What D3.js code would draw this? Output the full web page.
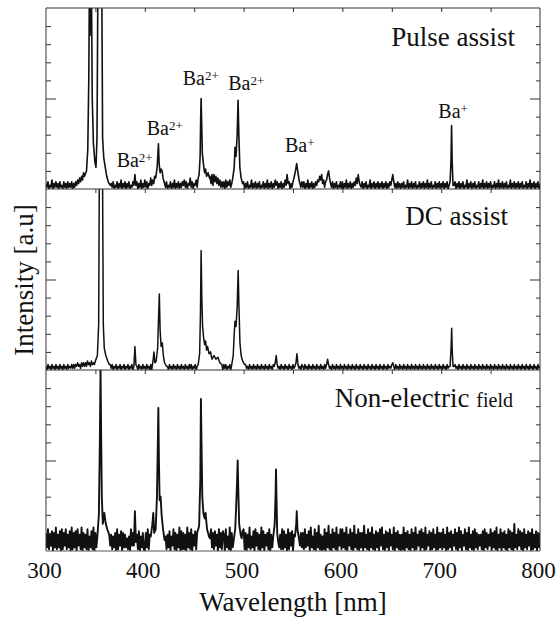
<!DOCTYPE html>
<html>
<head>
<meta charset="utf-8">
<script src="https://cdn.jsdelivr.net/npm/d3@7"></script>
<style>
  body { margin: 0; background: #fff; }
  text { font-family: "Liberation Serif", "Times New Roman", serif; fill: #111; }
</style>
</head>
<body>
<svg id="chart" width="556" height="623"></svg>
<script>
// Spectra: baseline readings every 1 nm from 300 nm (one row = 20 nm),
// plus hand-read points around each emission line (those replace the row values)
const wlStart = 300, wlStep = 1;

const pulseGrid = [
  3,1,4,0,2,1,5,0,3,1,4,1,3,0,4,1,2,0,4,1,   // 300
  3,0,4,1,3,1,4,0,3,1,4,2,5,3,6,4,7,5,9,6,   // 320
  0,0,0,0,0,0,0,0,0,0,0,0,0,0,0,0,0,0,0,0,   // 340
  0,0,0,0,0,0,3,1,4,0,2,1,4,0,3,1,5,0,3,1,   // 360
  4,0,3,1,4,0,2,1,4,2,8,2,4,0,3,1,5,0,3,1,   // 380
  5,1,4,0,3,2,6,2,5,3,7,0,0,0,0,0,0,0,0,0,   // 400
  3,1,4,0,2,1,4,0,3,1,5,0,3,1,4,0,3,1,4,2,   // 420
  5,1,4,0,3,2,6,1,4,0,3,2,5,1,6,0,0,0,0,0,   // 440
  0,0,0,0,0,0,7,3,8,2,8,4,7,3,6,2,5,1,4,1,   // 460
  4,0,5,1,4,2,5,1,3,0,0,0,0,0,0,0,0,0,0,0,   // 480
  4,0,3,1,4,0,2,1,5,0,3,1,4,0,3,1,4,0,2,1,   // 500
  4,0,3,1,5,0,3,1,4,0,3,1,5,2,4,0,3,1,4,0,   // 520
  3,1,5,2,8,3,4,0,3,1,4,0,0,0,0,0,0,3,1,4,   // 540
  1,4,0,3,1,5,0,3,1,4,0,3,1,4,2,5,4,7,5,8,   // 560
  3,5,1,4,5,8,10,6,3,1,4,0,3,1,4,0,2,1,4,0,  // 580
  4,0,3,1,5,0,3,1,4,0,3,1,4,2,6,3,8,4,2,1,   // 600
  4,0,3,1,4,0,2,1,5,0,3,1,4,0,3,1,4,0,3,1,   // 620
  4,0,3,1,4,0,3,1,4,2,5,8,4,1,3,0,4,1,3,0,   // 640
  3,1,4,0,2,1,5,0,3,1,4,0,3,1,4,0,2,1,4,0,   // 660
  3,1,4,0,3,1,5,0,3,1,4,0,2,1,4,0,3,1,4,0,   // 680
  3,1,4,0,3,1,4,0,2,0,0,0,0,2,4,0,3,1,4,0,   // 700
  3,1,4,0,2,1,5,0,3,1,4,0,3,1,4,0,2,1,4,0,   // 720
  3,1,5,0,3,1,4,0,3,1,4,0,2,1,4,0,3,1,5,0,   // 740
  3,1,4,0,3,1,4,0,2,1,5,0,3,1,4,0,3,1,4,0,   // 760
  3,1,4,0,2,1,4,0,3,1,5,0,3,1,4,0,3,1,4,0,   // 780
  3
];
const pulsePeaks = [
  [[339,7],[341,10],[342.3,22],[343.3,60],[343.9,110],[344.6,85],[345.3,110],[346,110],[346.8,50],
   [348,25],[349.5,15],[350.6,12],[351.6,28],[352.5,110],[356.5,110],[357.3,28],[358.5,17],
   [360,12],[361.5,7],[363,4],[365,2]],
  [[411,6],[412.5,12],[413.3,20],[413.8,25],[414.5,14],[415.5,9],[416.5,11],[417.5,10],[418.5,6],[419.5,4]],
  [[455,8],[456,18],[456.6,40],[457,50],[457.5,38],[458.2,20],[459.5,13],[460.5,9],[461.5,11],
   [462.5,7],[464,9],[465.5,6]],
  [[489,6],[490.5,12],[491.3,23],[492.3,18],[493.5,30],[494.4,49],[495.2,30],[496.2,12],[497.5,6],[499,3]],
  [[551,6],[552.5,10],[553.7,14],[555,9],[556.5,4]],
  [[709,4],[709.9,15],[710.5,35],[711.1,15],[712,2]]
];

const dcGrid = [
  2,0,3,1,2,0,3,1,2,0,3,1,2,0,3,1,2,0,3,1,   // 300
  2,0,3,1,2,1,3,1,3,1,3,2,4,2,3,1,4,2,4,2,   // 320
  4,2,5,3,4,2,5,3,4,3,0,0,0,0,0,0,0,0,0,0,   // 340
  0,0,0,0,0,3,1,3,0,2,1,3,0,2,1,3,0,2,1,3,   // 360
  0,2,1,3,0,2,1,3,0,0,0,0,2,0,3,1,2,0,3,1,   // 380
  2,0,3,1,2,0,3,0,0,0,0,0,0,0,0,0,0,0,0,0,   // 400
  0,0,0,2,0,3,1,2,0,3,1,2,0,3,1,2,0,3,1,2,   // 420
  0,3,1,2,0,3,1,3,0,2,1,3,0,2,0,0,0,0,0,0,   // 440
  0,0,0,0,0,0,0,0,0,0,0,0,0,0,0,0,0,0,0,0,   // 460
  3,1,3,0,2,1,3,0,0,0,0,0,0,0,0,0,0,0,0,0,   // 480
  0,0,3,1,2,0,3,1,2,0,3,1,2,0,3,1,2,0,3,1,   // 500
  2,0,3,1,2,0,3,1,2,0,3,2,4,8,3,1,2,0,3,1,   // 520
  2,0,3,1,2,0,3,1,2,0,3,1,2,4,9,3,1,2,0,3,   // 540
  2,0,3,1,2,0,3,1,2,0,3,1,2,0,3,1,2,0,3,1,   // 560
  2,0,3,1,3,6,3,1,2,0,3,1,2,0,3,1,2,0,3,1,   // 580
  2,0,3,1,2,0,3,1,2,0,3,1,2,0,3,1,2,0,3,1,   // 600
  2,0,3,1,2,0,3,1,2,0,3,1,2,0,3,1,2,0,3,1,   // 620
  2,0,3,1,2,0,3,1,2,1,3,4,2,0,3,1,2,0,3,1,   // 640
  2,0,3,1,2,0,3,1,2,0,3,1,2,0,3,1,2,0,3,1,   // 660
  2,0,3,1,2,0,3,1,2,0,3,1,2,0,3,1,2,0,3,1,   // 680
  2,0,3,1,2,0,3,1,2,0,0,0,0,2,3,1,2,0,3,1,   // 700
  2,0,3,1,2,0,3,1,2,0,3,1,2,0,3,1,2,0,3,1,   // 720
  2,0,3,1,2,0,3,1,2,0,3,1,2,0,3,1,2,0,3,1,   // 740
  2,0,3,1,2,0,3,1,2,0,3,1,2,0,3,1,2,0,3,1,   // 760
  2,0,3,1,2,0,3,1,2,0,3,1,2,0,3,1,2,0,3,1,   // 780
  2
];
const dcPeaks = [
  [[350,5],[352,8],[353.3,25],[354,110],[357.2,110],[358,25],[359,12],[360.5,8],[362.5,5],[364,3]],
  [[389,2],[390,13],[391,3]],
  [[407.5,2],[408.5,6],[409.3,10],[410.2,4],[411.5,5],[413,12],[414,30],[414.7,42],[415.5,22],
   [416.5,13],[417.7,15],[418.8,8],[420,4],[422,2]],
  [[454,3],[455.5,9],[456.3,30],[457,66],[457.7,40],[458.5,24],[459.5,18],[460.5,14],[461.5,16],
   [462.5,11],[463.5,13],[465,9],[466.5,10],[468,6],[470,8],[472,6],[474,7],[476,4],[478,3]],
  [[488,3],[489.5,8],[490.5,20],[491.3,27],[492.3,24],[493.5,35],[494.5,55],[495.3,35],[496.3,15],
   [497.5,8],[499,5],[501,3]],
  [[709,2],[710,12],[710.6,23],[711.2,10],[712,2]]
];

const nonGrid = [
  10,2,12,1,9,3,11,0,10,2,13,1,9,2,11,0,12,1,10,3,   // 300
  12,1,9,2,11,0,13,1,10,2,11,0,12,3,9,1,13,0,10,2,   // 320
  9,1,12,0,8,2,11,1,13,0,10,2,0,0,0,0,0,0,0,0,       // 340
  0,0,0,0,0,3,9,1,8,2,10,0,12,1,9,3,11,0,10,2,       // 360
  9,2,7,1,8,0,12,3,10,0,0,0,9,1,11,0,8,2,10,1,       // 380
  0,10,2,12,1,9,0,0,0,0,0,0,0,0,0,0,0,0,0,0,         // 400
  0,8,1,9,2,11,0,8,3,12,1,10,0,9,2,13,0,11,1,10,     // 420
  1,9,0,13,2,10,1,12,0,9,3,11,1,0,0,0,0,0,0,0,       // 440
  0,0,0,0,0,0,7,12,2,10,1,11,3,9,0,12,2,10,1,11,     // 460
  9,0,12,2,8,1,13,0,10,2,0,0,0,0,0,0,0,0,7,11,       // 480
  12,1,10,0,9,2,13,1,8,2,11,0,12,3,10,1,9,0,13,2,    // 500
  11,0,9,3,10,1,12,0,9,2,0,0,0,0,0,0,2,9,1,12,       // 520
  1,11,2,9,0,12,1,10,3,11,0,9,0,0,0,0,0,3,10,2,      // 540
  10,1,12,2,9,3,11,0,13,2,8,1,12,0,10,2,14,1,9,0,    // 560
  8,1,12,0,10,2,14,1,9,0,12,2,10,1,13,0,9,3,12,1,    // 580
  12,2,10,1,13,0,9,3,12,1,10,0,14,2,9,1,12,0,10,2,   // 600
  10,0,14,2,9,1,12,0,10,2,13,1,9,0,11,2,10,0,12,3,   // 620
  13,1,9,0,11,2,10,0,12,3,9,1,13,0,10,2,11,1,9,0,    // 640
  9,1,13,0,10,2,11,1,9,0,12,2,10,0,13,1,9,3,11,0,    // 660
  12,2,10,0,13,1,9,3,11,0,10,1,12,2,9,0,13,1,10,2,   // 680
  10,1,12,2,9,0,13,1,10,2,11,0,9,3,12,1,10,0,13,2,   // 700
  11,0,9,3,12,1,10,0,13,2,9,1,11,0,12,2,10,1,9,3,    // 720
  9,1,11,0,12,2,10,1,9,3,12,0,10,2,11,1,13,0,9,2,    // 740
  12,0,10,2,11,1,9,0,12,2,11,1,10,0,15,2,9,1,12,3,   // 760
  11,1,10,0,12,2,9,1,11,3,10,0,12,1,9,2,11,0,10,2,   // 780
  10
];
const nonPeaks = [
  [[352,8],[353.5,20],[354.5,60],[355.2,102],[355.9,60],[356.5,30],[357.5,15],[359,21],[360.5,15],[362,12],[364,9]],
  [[389,3],[390,22],[391,5]],
  [[406,8],[407.5,14],[408.6,21],[409.5,10],[411,12],[412.3,30],[413.2,60],[413.7,79],[414.3,50],
   [415,28],[416,30],[417,20],[418.5,12],[420,6]],
  [[453,10],[455,14],[456.2,40],[456.8,84],[457.4,60],[458.2,30],[459.3,21],[460.5,18],[461.5,21],[463,12],[465,8]],
  [[490,6],[491.5,12],[492.5,25],[493.5,40],[494,50],[494.6,35],[495.5,15],[497,9]],
  [[530,8],[531.5,15],[532.3,30],[532.8,45],[533.3,30],[534,10],[535,5]],
  [[552,8],[553.3,15],[553.8,22],[554.5,12],[556,7]]
];

const xTicks = [300, 400, 500, 600, 700, 800];
// ion labels: [element, charge, wavelength, intensity] placed in the top panel
const ionLabels = [
  ['Ba', '2+', 371.5, 12.3],
  ['Ba', '2+', 401.9, 29.8],
  ['Ba', '2+', 438.4, 57.5],
  ['Ba', '2+', 484.5, 54.7],
  ['Ba', '+', 541.9, 20.6],
  ['Ba', '+', 697.1, 39.1]
];

// merge the baseline rows with the finer points read around each line
const buildSeries = (grid, peaks) => {
  const spans = peaks.map(p => [p[0][0], p[p.length - 1][0]]);
  const pts = grid.map((v, i) => [wlStart + i * wlStep, v])
    .filter(([w]) => !spans.some(([a, b]) => w >= a && w <= b));
  peaks.forEach(p => pts.push(...p));
  return pts.sort((a, b) => a[0] - b[0]);
};

const panels = [
  { title: 'Pulse assist', data: buildSeries(pulseGrid, pulsePeaks), top: 8, bottom: 189, sw: 1.6 },
  { title: 'DC assist', data: buildSeries(dcGrid, dcPeaks), top: 189, bottom: 370, sw: 1.5 },
  { title: 'Non-electric', data: buildSeries(nonGrid, nonPeaks), top: 370, bottom: 551, sw: 1.9 }
];

const left = 46, right = 540;
const svg = d3.select('#chart');
const x = d3.scaleLinear().domain([300, 800]).range([left, right]);

panels.forEach((p, i) => {
  const y = d3.scaleLinear().domain([0, 100]).range([p.bottom, p.top]);
  p.y = y;

  svg.append('clipPath').attr('id', 'clip' + i)
    .append('rect')
    .attr('x', left).attr('y', p.top)
    .attr('width', right - left).attr('height', p.bottom - p.top);

  svg.append('path')
    .datum(p.data)
    .attr('clip-path', `url(#clip${i})`)
    .attr('fill', 'none')
    .attr('stroke', '#111')
    .attr('stroke-width', p.sw)
    .attr('stroke-linejoin', 'round')
    .attr('d', d3.line().x(d => x(d[0])).y(d => y(d[1])));

  // ticks: top edge every 50 nm, both sides every 10 units (long one in the middle)
  const minor = [10, 20, 30, 40, 60, 70, 80, 90];
  const addAxis = (axis, tx, ty) => {
    const g = svg.append('g').attr('transform', `translate(${tx},${ty})`).call(axis);
    g.select('.domain').remove();
    g.selectAll('line').attr('stroke', '#333');
  };
  addAxis(d3.axisBottom(x).tickValues([350, 400, 450, 500, 550, 600, 650, 700, 750]).tickSize(4).tickFormat(''), 0, p.top);
  addAxis(d3.axisRight(y).tickValues(minor).tickSize(5).tickFormat(''), left, 0);
  addAxis(d3.axisRight(y).tickValues([50]).tickSize(10).tickFormat(''), left, 0);
  addAxis(d3.axisLeft(y).tickValues(minor).tickSize(4).tickFormat(''), right, 0);
  addAxis(d3.axisLeft(y).tickValues([50]).tickSize(10).tickFormat(''), right, 0);

  // panel border line
  svg.append('line')
    .attr('x1', left).attr('x2', right)
    .attr('y1', p.top).attr('y2', p.top)
    .attr('stroke', '#333').attr('stroke-width', 1);
});

// frame sides and bottom
svg.append('line').attr('x1', left).attr('x2', left).attr('y1', 8).attr('y2', 551).attr('stroke', '#333');
svg.append('line').attr('x1', right).attr('x2', right).attr('y1', 8).attr('y2', 551).attr('stroke', '#333');
svg.append('line').attr('x1', left).attr('x2', right).attr('y1', 551).attr('y2', 551).attr('stroke', '#555');

// bottom axis labels
const xAxis = svg.append('g')
  .attr('transform', 'translate(0,551)')
  .call(d3.axisBottom(x).tickValues(xTicks).tickSize(0).tickFormat(d3.format('d')));
xAxis.select('.domain').remove();
xAxis.selectAll('text')
  .attr('y', 27).attr('dy', 0).attr('dx', -2)
  .attr('font-size', 23)
  .attr('font-family', '"Liberation Serif", serif')
  .attr('fill', '#111');

svg.append('text')
  .attr('x', (left + right) / 2).attr('y', 611)
  .attr('text-anchor', 'middle')
  .attr('font-size', 27)
  .text('Wavelength [nm]');

svg.append('text')
  .attr('transform', 'translate(33,280) rotate(-90)')
  .attr('text-anchor', 'middle')
  .attr('font-size', 27)
  .text('Intensity [a.u]');

// panel titles
svg.append('text').attr('x', 515).attr('y', 46).attr('text-anchor', 'end')
  .attr('font-size', 27).text(panels[0].title);
svg.append('text').attr('x', 508).attr('y', 225).attr('text-anchor', 'end')
  .attr('font-size', 27).text(panels[1].title);
const t3 = svg.append('text').attr('x', 513).attr('y', 407).attr('text-anchor', 'end')
  .attr('font-size', 27);
t3.append('tspan').text(panels[2].title + ' ');
t3.append('tspan').attr('font-size', 20).text('field');

// ion labels on the top panel
const yTop = panels[0].y;
ionLabels.forEach(([el, ch, wl, v]) => {
  const t = svg.append('text')
    .attr('x', x(wl)).attr('y', yTop(v))
    .attr('font-size', 20);
  t.append('tspan').text(el);
  t.append('tspan').attr('font-size', 13).attr('dy', -5).text(ch);
});
</script>
</body>
</html>
